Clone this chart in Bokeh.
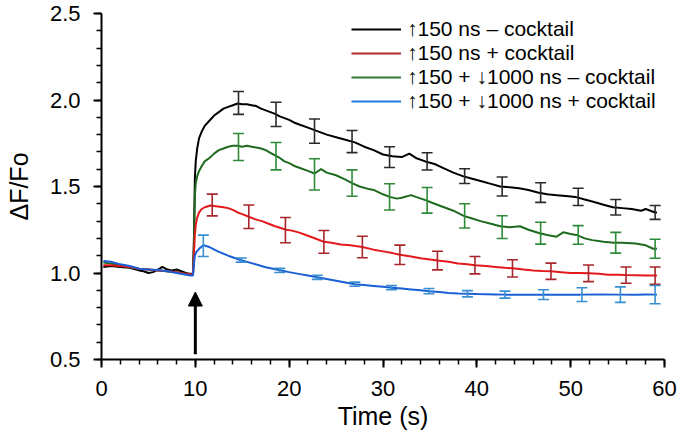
from bokeh.plotting import figure
from bokeh.models import (ColumnDataSource, Whisker, TeeHead, Arrow, NormalHead,
                          Legend, LegendItem, Range1d, FixedTicker)
from bokeh.embed import file_html
from bokeh.resources import INLINE

# ---------------- data ----------------
black_t = [0.2, 1, 2, 3, 4, 4.5, 5, 5.5, 6, 6.5, 7, 7.5, 8, 8.5, 9, 9.5, 9.75,
           9.85, 9.95, 10.05, 10.2, 10.4, 10.7, 11, 11.5, 12, 12.5, 13, 13.5, 14, 14.5,
           15, 15.5, 16, 16.5, 17, 17.5, 18, 18.5, 19, 19.5, 20, 20.5,
           21, 22, 23, 24, 25, 26, 27, 28, 29, 30, 31, 32, 32.8, 33.5, 34.5, 35.5,
           36.5, 37.5, 38.5, 39.5, 40.5, 41.5, 42.5, 43.5, 44.5, 45.5, 46.5, 47.5,
           48.5, 49.5, 50.5, 51.5, 52.5, 53.5, 54.5, 55.5, 56.5, 57.5, 58, 59, 59.2]
black_v = [1.035, 1.04, 1.035, 1.03, 1.015, 1.01, 1.0, 1.005, 1.02, 1.035, 1.02, 1.015,
           1.02, 1.01, 1.0, 0.995, 0.995,
           1.2, 1.55, 1.65, 1.72, 1.78, 1.82, 1.85, 1.88, 1.91, 1.93, 1.95, 1.96, 1.97, 1.98,
           1.975, 1.975, 1.97, 1.965, 1.95, 1.94, 1.93, 1.92, 1.905, 1.895, 1.885, 1.87,
           1.86, 1.84, 1.82, 1.80, 1.785, 1.77, 1.755, 1.73, 1.71, 1.685, 1.675, 1.67, 1.69,
           1.665, 1.645, 1.63, 1.605, 1.58, 1.56, 1.545, 1.53, 1.515, 1.50, 1.495, 1.49,
           1.48, 1.465, 1.455, 1.45, 1.445, 1.44, 1.425, 1.41, 1.395, 1.38, 1.375, 1.37,
           1.36, 1.37, 1.35, 1.35]

green_t = [0.2, 1, 2, 3, 4, 5, 6, 7, 8, 9, 9.6, 9.75,
           9.85, 9.95, 10.05, 10.2, 10.4, 10.7, 11, 11.5, 12, 12.5, 13, 13.5, 14, 14.5,
           15, 15.5, 16, 16.5, 17, 17.5, 18, 18.5, 19, 19.5, 20, 20.5, 21, 22, 22.7,
           23.4, 24, 25, 26, 26.7, 27.5, 28.5, 29, 30, 30.7, 31.5, 32, 33, 33.5, 34.6,
           35.5, 36.5, 37.5, 38.6, 39.5, 40.4, 41.5, 42.5, 43.5, 44.6, 45.5, 46.7, 47.5,
           48.5, 49.2, 50, 50.6, 51.5, 52.3, 53.5, 54.6, 55.5, 56.9, 58, 58.8, 59.2]
green_v = [1.06, 1.055, 1.045, 1.035, 1.025, 1.02, 1.015, 1.01, 1.005, 0.995, 0.99, 0.99,
           1.15, 1.45, 1.52, 1.56, 1.59, 1.62, 1.645, 1.665, 1.69, 1.71, 1.72, 1.73, 1.735,
           1.735, 1.73, 1.735, 1.73, 1.725, 1.72, 1.71, 1.695, 1.68, 1.665, 1.645, 1.635,
           1.62, 1.61, 1.59, 1.575, 1.60, 1.58, 1.565, 1.54, 1.52, 1.50, 1.485, 1.48, 1.455,
           1.44, 1.43, 1.435, 1.45, 1.44, 1.42, 1.40, 1.38, 1.36, 1.33, 1.315, 1.30, 1.285,
           1.27, 1.265, 1.27, 1.25, 1.23, 1.22, 1.21, 1.235, 1.225, 1.22, 1.20, 1.19, 1.18,
           1.175, 1.175, 1.17, 1.16, 1.14, 1.14]

red_t = [0.2, 1, 2, 3, 4, 5, 6, 7, 8, 9, 9.75,
         9.85, 9.95, 10.05, 10.2, 10.4, 10.7, 11, 11.6, 12.4, 13, 13.5, 14, 14.5, 15,
         15.7, 16.4, 17.1, 17.8, 18.5, 19.1, 19.7, 20.3, 21, 22, 23, 23.7, 24.5, 25.5,
         26.5, 27.8, 29, 30, 31, 31.8, 33, 34, 35, 35.8, 37, 38, 39, 39.8, 41, 42, 43,
         43.8, 45, 46, 47, 47.9, 49, 50, 51, 51.9, 53, 54, 55, 55.9, 57, 58, 59.2]
red_v = [1.045, 1.045, 1.04, 1.035, 1.025, 1.02, 1.015, 1.01, 1.005, 0.995, 0.99,
         1.1, 1.22, 1.28, 1.32, 1.35, 1.37, 1.38, 1.39, 1.385, 1.38, 1.375, 1.365, 1.35,
         1.34, 1.325, 1.31, 1.30, 1.285, 1.27, 1.26, 1.25, 1.245, 1.235, 1.215, 1.195,
         1.18, 1.175, 1.165, 1.16, 1.15, 1.135, 1.125, 1.115, 1.105, 1.095, 1.085, 1.078,
         1.072, 1.065, 1.055, 1.05, 1.045, 1.04, 1.035, 1.03, 1.027, 1.02, 1.015, 1.012,
         1.01, 1.005, 1.0, 1.0, 0.998, 0.995, 0.99, 0.99, 0.988, 0.987, 0.986, 0.985]

blue_t = [0.2, 1, 2, 3, 4, 5, 6, 7, 8, 9, 9.5, 9.75,
          9.85, 9.95, 10.1, 10.4, 10.85, 11.5, 12.4, 13.5, 14.8, 16, 17.4, 18.9, 20, 21,
          22, 23, 24, 25, 26, 27, 28, 29, 30, 30.9, 32, 33, 34, 34.9, 36, 37, 38, 39, 40,
          41, 42, 43, 45, 47, 49, 51, 53, 55, 57, 58, 59.2]
blue_v = [1.07, 1.065, 1.05, 1.04, 1.025, 1.02, 1.017, 1.01, 1.0, 0.99, 0.985, 0.985,
          1.05, 1.10, 1.12, 1.14, 1.16, 1.15, 1.125, 1.10, 1.075, 1.057, 1.035, 1.017,
          1.005, 0.995, 0.985, 0.975, 0.965, 0.955, 0.945, 0.935, 0.93, 0.925, 0.92, 0.915,
          0.91, 0.905, 0.9, 0.895, 0.89, 0.885, 0.882, 0.88, 0.878, 0.877, 0.876, 0.875,
          0.875, 0.874, 0.875, 0.875, 0.876, 0.875, 0.874, 0.876, 0.875]

# error bars (time, mean, sem)
black_err_t = [14.6, 18.6, 22.7, 26.7, 30.7, 34.7, 38.7, 42.7, 46.8, 50.8, 54.8, 59.0]
black_err_m = [1.983, 1.917, 1.82, 1.76, 1.67, 1.645, 1.56, 1.50, 1.465, 1.44, 1.38, 1.35]
black_err_e = [0.066, 0.07, 0.07, 0.064, 0.06, 0.05, 0.043, 0.055, 0.057, 0.05, 0.045, 0.04]

green_err_t = [14.6, 18.6, 22.7, 26.7, 30.7, 34.7, 38.7, 42.7, 46.8, 50.8, 54.8, 59.0]
green_err_m = [1.728, 1.675, 1.57, 1.52, 1.44, 1.42, 1.33, 1.265, 1.23, 1.22, 1.175, 1.14]
green_err_e = [0.078, 0.079, 0.09, 0.076, 0.076, 0.074, 0.07, 0.066, 0.063, 0.054, 0.06, 0.055]

red_err_t = [11.8, 15.7, 19.6, 23.7, 27.8, 31.8, 35.8, 39.8, 43.8, 47.9, 51.9, 55.9, 59.0]
red_err_m = [1.393, 1.325, 1.248, 1.18, 1.15, 1.105, 1.072, 1.045, 1.027, 1.01, 0.998, 0.988, 0.985]
red_err_e = [0.063, 0.068, 0.073, 0.066, 0.062, 0.056, 0.054, 0.05, 0.05, 0.047, 0.048, 0.047, 0.05]

blue_err_t = [10.85, 14.9, 19.0, 23.0, 27.0, 30.9, 34.9, 39.0, 43.0, 47.1, 51.2, 55.3, 59.0]
blue_err_m = [1.157, 1.075, 1.015, 0.975, 0.935, 0.915, 0.895, 0.88, 0.875, 0.875, 0.875, 0.875, 0.875]
blue_err_e = [0.062, 0.012, 0.012, 0.012, 0.012, 0.012, 0.015, 0.018, 0.02, 0.028, 0.04, 0.045, 0.053]

labels = ["\u2191150 ns \u2013 cocktail",
          "\u2191150 ns + cocktail",
          "\u2191150 + \u21931000 ns \u2013 cocktail",
          "\u2191150 + \u21931000 ns + cocktail"]

x_ticks = [0, 10, 20, 30, 40, 50, 60]
y_ticks = [0.5, 1.0, 1.5, 2.0, 2.5]
stim_time = 10
stim_from, stim_to = 0.53, 0.89

# ---------------- figure ----------------
FONT = "Liberation Sans"
p = figure(width=677, height=432, output_backend="svg", toolbar_location=None,
           x_range=Range1d(0, 60), y_range=Range1d(0.5, 2.5),
           min_border_left=101, min_border_right=13, min_border_top=13, min_border_bottom=72)
p.outline_line_color = None
p.xgrid.visible = False
p.ygrid.visible = False
p.background_fill_color = "white"

for ax in (p.xaxis[0], p.yaxis[0]):
    ax.axis_line_width = 2
    ax.axis_line_color = "black"
    ax.major_tick_line_width = 2
    ax.minor_tick_line_width = 1.5
    ax.major_tick_out = 8
    ax.major_tick_in = 0
    ax.minor_tick_out = 5
    ax.minor_tick_in = 0
    ax.major_label_text_font = FONT
    ax.major_label_text_font_size = "22px"
    ax.major_label_text_color = "black"
    ax.axis_label_text_font = FONT
    ax.axis_label_text_font_size = "25px"
    ax.axis_label_text_font_style = "normal"
    ax.axis_label_text_color = "black"

p.xaxis[0].ticker = FixedTicker(ticks=x_ticks, minor_ticks=[float(t) for t in range(0, 61, 2)])
p.yaxis[0].ticker = FixedTicker(ticks=y_ticks, minor_ticks=[round(0.5 + i * 0.1, 2) for i in range(21)])
p.xaxis[0].major_label_overrides = {t: str(t) for t in x_ticks}
p.yaxis[0].major_label_overrides = {t: f"{t:.1f}" for t in y_ticks}
p.xaxis.axis_label = "Time (s)"
p.yaxis.axis_label = "\u0394F/Fo"
p.xaxis.major_label_standoff = 13
p.yaxis.major_label_standoff = 13
p.xaxis.axis_label_standoff = 3
p.yaxis.axis_label_standoff = 14

series = [
    (black_t, black_v, black_err_t, black_err_m, black_err_e, "#000000", "#2b2b2b"),
    (green_t, green_v, green_err_t, green_err_m, green_err_e, "#1e6a1e", "#2e8b3a"),
    (red_t, red_v, red_err_t, red_err_m, red_err_e, "#e3191c", "#a8262b"),
    (blue_t, blue_v, blue_err_t, blue_err_m, blue_err_e, "#1a5fd6", "#3a8fd0"),
]

for t, v, et, em, ee, lc, ec in series:
    p.line(x=t, y=v, line_color=lc, line_width=2)
    src = ColumnDataSource(dict(x=et,
                                lo=[m - e for m, e in zip(em, ee)],
                                hi=[m + e for m, e in zip(em, ee)]))
    w = Whisker(source=src, base="x", lower="lo", upper="hi", level="overlay",
                line_color=ec, line_width=1.6,
                upper_head=TeeHead(size=11, line_color=ec, line_width=1.6),
                lower_head=TeeHead(size=11, line_color=ec, line_width=1.6))
    p.add_layout(w)

# legend (order: black, red, green, blue); sample-only renderers hold no visible points
legend_colors = ["#000000", "#b02a2a", "#2e7d32", "#1e7be0"]
nan = float("nan")
items = []
for lab, col in zip(labels, legend_colors):
    r = p.line(x=[nan], y=[nan], line_color=col, line_width=2)
    items.append(LegendItem(label=lab, renderers=[r]))
legend = Legend(items=items, location=(250, 246), margin=0, padding=0, spacing=0,
                label_text_font=FONT, label_text_font_size="21px", label_text_color="black",
                label_height=22, glyph_height=22, glyph_width=50, label_standoff=6,
                border_line_color=None, background_fill_alpha=0)
p.add_layout(legend)

p.add_layout(Arrow(end=NormalHead(size=14, fill_color="black", line_color="black"),
                   x_start=stim_time, y_start=stim_from, x_end=stim_time, y_end=stim_to,
                   line_width=3, line_color="black"))

open("out.html", "w").write(file_html(p, INLINE))
